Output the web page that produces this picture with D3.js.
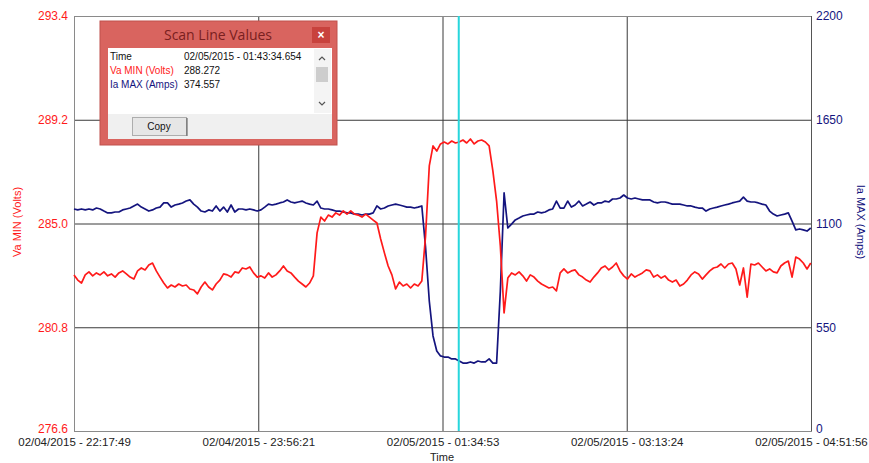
<!DOCTYPE html>
<html>
<head>
<meta charset="utf-8">
<script src="https://cdn.jsdelivr.net/npm/d3@7"></script>
<style>
	body { margin: 0; background: #fff; }
	svg { display: block; font-family: "Liberation Sans", Arial, sans-serif; }
	.grid line { stroke: #3a3a3a; stroke-width: 1; }
	.grid .domain { display: none; }
</style>
</head>
<body>
<svg id="visSVG" width="869" height="463"></svg>
<script>

// ---- data ----
var START = "02/04/2015 - 22:17:49";
var END = "02/05/2015 - 04:51:57";
var SAMPLE_SECONDS = 120;

var timeTicks = ["02/04/2015 - 22:17:49", "02/04/2015 - 23:56:21", "02/05/2015 - 01:34:53",
	"02/05/2015 - 03:13:24", "02/05/2015 - 04:51:56"];
var voltTicks = [276.6, 280.8, 285.0, 289.2, 293.4];
var ampTicks = [0, 550, 1100, 1650, 2200];

// Va MIN (Volts), one sample every 2 minutes
var vaMin = [
	282.92, 282.71, 282.59, 282.92, 283.04, 282.88, 283.00, 282.92, 283.04, 282.88,
	282.96, 282.83, 283.00, 283.08, 282.96, 282.83, 282.75, 283.08, 283.20, 283.12,
	283.32, 283.40, 283.08, 282.83, 282.59, 282.39, 282.51, 282.43, 282.55, 282.47,
	282.51, 282.35, 282.31, 282.15, 282.43, 282.63, 282.43, 282.31, 282.55, 282.71,
	282.96, 282.92, 282.83, 283.04, 283.00, 283.20, 283.16, 283.24, 283.00, 282.83,
	282.88, 282.79, 283.00, 282.83, 282.92, 283.08, 283.28, 283.08, 283.00, 282.83,
	282.67, 282.55, 282.43, 282.59, 282.88, 284.62, 285.26, 285.10, 285.34, 285.26,
	285.43, 285.34, 285.51, 285.38, 285.51, 285.38, 285.34, 285.26, 285.38, 285.26,
	285.14, 285.02, 284.37, 283.81, 283.28, 282.92, 282.35, 282.63, 282.47, 282.55,
	282.39, 282.55, 282.47, 282.67, 284.49, 287.33, 288.14, 287.93, 288.22, 288.30,
	288.22, 288.34, 288.26, 288.30, 288.38, 288.26, 288.42, 288.22, 288.34, 288.38,
	288.30, 288.14, 287.13, 285.91, 284.09, 281.38, 282.79, 283.00, 282.92, 283.04,
	282.88, 282.67, 282.92, 282.83, 282.67, 282.55, 282.47, 282.39, 282.43, 282.27,
	283.00, 283.16, 283.00, 283.08, 283.12, 282.92, 282.83, 282.71, 282.63, 282.83,
	283.00, 283.20, 283.28, 283.12, 283.24, 283.40, 283.08, 282.88, 282.75, 282.96,
	282.83, 282.92, 283.00, 283.12, 283.08, 282.83, 282.92, 282.79, 282.88, 282.71,
	282.63, 282.71, 282.47, 282.55, 282.71, 282.92, 283.04, 282.96, 282.75, 282.92,
	283.08, 283.20, 283.24, 283.36, 283.20, 283.36, 283.40, 283.16, 282.51, 283.20,
	282.02, 283.36, 283.32, 283.40, 283.24, 283.08, 283.16, 283.04, 283.00, 283.28,
	283.40, 283.48, 282.83, 283.64, 283.56, 283.40, 283.16, 283.40
];

// Ia MAX (Amps), same sampling
var iaMax = [
	1177, 1172, 1177, 1172, 1177, 1172, 1182, 1177, 1166, 1156,
	1156, 1161, 1161, 1172, 1177, 1182, 1193, 1203, 1187, 1177,
	1166, 1172, 1182, 1187, 1209, 1209, 1187, 1198, 1203, 1209,
	1219, 1225, 1203, 1187, 1166, 1161, 1172, 1166, 1193, 1166,
	1187, 1161, 1198, 1161, 1177, 1177, 1172, 1177, 1172, 1166,
	1172, 1187, 1203, 1198, 1203, 1209, 1214, 1225, 1214, 1209,
	1214, 1219, 1209, 1203, 1198, 1219, 1182, 1177, 1177, 1172,
	1166, 1166, 1161, 1156, 1156, 1150, 1150, 1145, 1150, 1150,
	1156, 1193, 1177, 1182, 1193, 1198, 1203, 1198, 1193, 1187,
	1187, 1182, 1187, 1193, 975, 689, 504, 424, 398, 392,
	392, 382, 382, 371, 360, 360, 366, 360, 371, 366,
	366, 382, 360, 360, 742, 1262, 1076, 1097, 1119, 1129,
	1140, 1145, 1150, 1150, 1161, 1156, 1161, 1172, 1177, 1219,
	1182, 1182, 1219, 1187, 1198, 1219, 1193, 1203, 1214, 1198,
	1209, 1209, 1219, 1214, 1230, 1230, 1235, 1251, 1235, 1230,
	1235, 1230, 1225, 1225, 1225, 1214, 1209, 1214, 1214, 1209,
	1203, 1203, 1203, 1198, 1193, 1193, 1187, 1182, 1182, 1166,
	1177, 1182, 1187, 1193, 1198, 1203, 1209, 1214, 1219, 1240,
	1219, 1214, 1214, 1209, 1203, 1198, 1166, 1150, 1140, 1145,
	1150, 1156, 1113, 1066, 1071, 1066, 1060, 1076
];

// scan line readout
var scanTime = "02/05/2015 - 01:43:34.654";
var scanLabels = ["Time", "Va MIN (Volts)", "Ia MAX (Amps)"];
var scanValues = [scanTime, "288.272", "374.557"];

// ---- layout ----
var PLOT_L = 74, PLOT_R = 811, PLOT_T = 16, PLOT_B = 431;
var RED = "#ff1a1a", NAVY = "#14147e", CYAN = "#27d6dc";
var FRAME_RED = "#d9645f";

var parseTick = d3.timeParse("%m/%d/%Y - %H:%M:%S");
var parseScan = d3.timeParse("%m/%d/%Y - %H:%M:%S.%L");
var fmtTick = d3.timeFormat("%m/%d/%Y - %H:%M:%S");

var t0 = parseTick(START);
var svg = d3.select("#visSVG");

var x = d3.scaleTime()
	.domain([t0, parseTick(END)])
	.range([PLOT_L, PLOT_R]);
var yV = d3.scaleLinear()
	.domain([voltTicks[0], voltTicks[voltTicks.length - 1]])
	.range([PLOT_B, PLOT_T]);
var yA = d3.scaleLinear()
	.domain([ampTicks[0], ampTicks[ampTicks.length - 1]])
	.range([PLOT_B, PLOT_T]);

function sampleTime(i)
{
	return new Date(t0.getTime() + i * SAMPLE_SECONDS * 1000);
}

// grid lines
svg.append("g")
	.attr("class", "grid")
	.attr("transform", "translate(0," + PLOT_B + ")")
	.call(d3.axisBottom(x).tickValues(timeTicks.slice(1, -1).map(parseTick))
		.tickSize(-(PLOT_B - PLOT_T)).tickFormat(""));
svg.append("g")
	.attr("class", "grid")
	.attr("transform", "translate(" + PLOT_L + ",0)")
	.call(d3.axisLeft(yV).tickValues(voltTicks.slice(1, -1))
		.tickSize(-(PLOT_R - PLOT_L)).tickFormat(""));

// plot frame
svg.append("rect")
	.attr("x", PLOT_L + 0.5).attr("y", PLOT_T + 0.5)
	.attr("width", PLOT_R - PLOT_L).attr("height", PLOT_B - PLOT_T)
	.attr("fill", "none").attr("stroke", "#8a8a8a");
svg.append("line")
	.attr("x1", PLOT_R + 0.5).attr("x2", PLOT_R + 0.5)
	.attr("y1", PLOT_T).attr("y2", PLOT_B)
	.attr("stroke", "#555");

// left axis (volts)
var leftAxis = svg.append("g")
	.attr("transform", "translate(" + (PLOT_L - 3) + ",0)")
	.call(d3.axisLeft(yV).tickValues(voltTicks).tickSize(0).tickFormat(d3.format(".1f")));
leftAxis.select(".domain").remove();
leftAxis.selectAll("text")
	.attr("fill", RED).style("font-size", "12px");
// lowest label sits a little higher, as in the original
leftAxis.selectAll("text").filter(function(d) { return d === voltTicks[0]; })
	.attr("dy", "0.1em");

// right axis (amps)
var rightAxis = svg.append("g")
	.attr("transform", "translate(" + (PLOT_R + 2) + ",0)")
	.call(d3.axisRight(yA).tickValues(ampTicks).tickSize(0).tickFormat(d3.format("d")));
rightAxis.select(".domain").remove();
rightAxis.selectAll("text")
	.attr("fill", NAVY).style("font-size", "12px");
rightAxis.selectAll("text").filter(function(d) { return d === ampTicks[0]; })
	.attr("dy", "0.1em");

// bottom axis (time)
var bottomAxis = svg.append("g")
	.attr("transform", "translate(0," + (PLOT_B + 4) + ")")
	.call(d3.axisBottom(x).tickValues(timeTicks.map(parseTick)).tickSize(0).tickFormat(fmtTick));
bottomAxis.select(".domain").remove();
bottomAxis.selectAll("text")
	.attr("fill", "#222").style("font-size", "11.5px");

// axis titles
svg.append("text")
	.attr("transform", "translate(21,222) rotate(-90)")
	.attr("text-anchor", "middle")
	.attr("fill", RED).style("font-size", "11px")
	.text("Va MIN (Volts)");
svg.append("text")
	.attr("transform", "translate(857,222) rotate(90)")
	.attr("text-anchor", "middle")
	.attr("fill", NAVY).style("font-size", "11px")
	.text("Ia MAX (Amps)");
svg.append("text")
	.attr("x", 442).attr("y", 461)
	.attr("text-anchor", "middle")
	.attr("fill", "#222").style("font-size", "11px")
	.text("Time");

// the two series
var voltLine = d3.line()
	.x(function(d, i) { return x(sampleTime(i)); })
	.y(function(d) { return yV(d); });
var ampLine = d3.line()
	.x(function(d, i) { return x(sampleTime(i)); })
	.y(function(d) { return yA(d); });

svg.append("path")
	.datum(iaMax)
	.attr("d", ampLine)
	.attr("fill", "none").attr("stroke", NAVY).attr("stroke-width", 1.7)
	.attr("stroke-linejoin", "round");
svg.append("path")
	.datum(vaMin)
	.attr("d", voltLine)
	.attr("fill", "none").attr("stroke", RED).attr("stroke-width", 1.7)
	.attr("stroke-linejoin", "round");

// scan line
var scanX = x(parseScan(scanTime));
svg.append("line")
	.attr("x1", scanX).attr("x2", scanX)
	.attr("y1", PLOT_T).attr("y2", PLOT_B)
	.attr("stroke", CYAN).attr("stroke-width", 2);

// scan line values window
var win = svg.append("g").attr("transform", "translate(100,21)");
win.append("rect")
	.attr("width", 237).attr("height", 124)
	.attr("fill", FRAME_RED).attr("stroke", "#c0504c");
win.append("text")
	.attr("x", 118).attr("y", 19)
	.attr("text-anchor", "middle")
	.attr("fill", "#7a2020")
	.style("font-family", "'Open Sans', 'DejaVu Sans', sans-serif").style("font-size", "14px")
	.text("Scan Line Values");
win.append("rect")
	.attr("x", 212).attr("y", 6).attr("width", 18).attr("height", 16)
	.attr("fill", "#c8423d");
win.append("text")
	.attr("x", 221).attr("y", 18)
	.attr("text-anchor", "middle")
	.attr("fill", "#fff").style("font-size", "12px").style("font-weight", "bold")
	.text("\u00d7");

// list box
win.append("rect")
	.attr("x", 8).attr("y", 27).attr("width", 224).attr("height", 66)
	.attr("fill", "#fff");
var rowColors = ["#111", RED, NAVY];
scanLabels.forEach(function(lbl, i) {
	win.append("text")
		.attr("x", 10).attr("y", 39 + i * 14)
		.attr("fill", rowColors[i]).style("font-size", "10px")
		.text(lbl);
	win.append("text")
		.attr("x", 84).attr("y", 39 + i * 14)
		.attr("fill", "#111").style("font-size", "10px")
		.text(scanValues[i]);
});

// scroll bar
win.append("rect")
	.attr("x", 214).attr("y", 28).attr("width", 17).attr("height", 64)
	.attr("fill", "#f4f4f4");
win.append("rect")
	.attr("x", 216).attr("y", 46).attr("width", 12).attr("height", 15)
	.attr("fill", "#cdcdcd");
win.append("path")
	.attr("d", "M219,39 L222,36 L225,39")
	.attr("fill", "none").attr("stroke", "#555").attr("stroke-width", 1.2);
win.append("path")
	.attr("d", "M219,81 L222,84 L225,81")
	.attr("fill", "none").attr("stroke", "#555").attr("stroke-width", 1.2);

// button strip
win.append("rect")
	.attr("x", 8).attr("y", 93).attr("width", 224).attr("height", 25)
	.attr("fill", "#f0f0f0");
win.append("rect")
	.attr("x", 32.5).attr("y", 96.5).attr("width", 54).attr("height", 18)
	.attr("fill", "#e6e6e6").attr("stroke", "#adadad");
win.append("line")
	.attr("x1", 87).attr("x2", 87).attr("y1", 97).attr("y2", 115)
	.attr("stroke", "#555");
win.append("text")
	.attr("x", 59).attr("y", 109)
	.attr("text-anchor", "middle")
	.attr("fill", "#111").style("font-size", "10px")
	.text("Copy");

</script>
</body>
</html>
